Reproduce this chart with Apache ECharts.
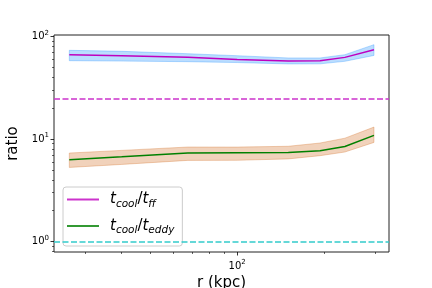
<!DOCTYPE html>
<html>
<head>
<meta charset="utf-8">
<script src="https://cdn.jsdelivr.net/npm/echarts@6/dist/echarts.min.js"></script>
<style>
html,body{margin:0;padding:0;background:#fff;}
#c{width:432px;height:288px;}
</style>
</head>
<body>
<div id="c"></div>
<script>
// ---- data ----
const radius   = [26.4, 40, 67.6, 100, 150, 193, 235, 296];
const ffMid    = [66.5, 65.3, 63.1, 60.0, 58.0, 58.3, 62.8, 74.6];
const ffLow    = [58.3, 57.8, 57.0, 55.9, 54.2, 54.3, 57.5, 65.6];
const ffHigh   = [73.6, 72.0, 68.2, 65.2, 62.0, 62.0, 66.7, 83.6];
const eddyMid  = [6.29, 6.71, 7.31, 7.35, 7.40, 7.69, 8.47, 10.86];
const eddyLow  = [5.28, 5.65, 6.19, 6.20, 6.40, 6.88, 7.47, 9.27];
const eddyHigh = [7.30, 7.75, 8.36, 8.35, 8.50, 9.15, 10.2, 13.1];
const ffThreshold = 25;
const eddyThreshold = 1;
const xMajorTicks = [100];
const xMinorTicks = [30, 40, 50, 60, 70, 80, 90, 200, 300];
const yMajorTicks = [1, 10, 100];
const yMinorTicks = [0.8, 0.9, 2, 3, 4, 5, 6, 7, 8, 9, 20, 30, 40, 50, 60, 70, 80, 90];
const xRange = [23.38, 333.5];
const yRange = [0.788, 103.9];

const FONT = 'DejaVu Sans';
const powLabel = v => '{b|10}{s|' + Math.round(Math.log10(v)) + '}';
const powRich = {
  b: {fontSize: 10, fontFamily: FONT, color: '#000', lineHeight: 14},
  s: {fontSize: 7, fontFamily: FONT, color: '#000', lineHeight: 9, verticalAlign: 'top'}
};

function bandSeries(lo, hi, fill) {
  return {
    type: 'custom',
    xAxisIndex: 0, yAxisIndex: 0,
    silent: true, clip: true, z: 1,
    data: [[radius[0], lo[0]]],
    renderItem: function (params, api) {
      const top = radius.map((r, i) => api.coord([r, hi[i]]));
      const bot = radius.map((r, i) => api.coord([r, lo[i]])).reverse();
      return {
        type: 'polygon',
        shape: {points: top.concat(bot)},
        style: {fill: fill, stroke: fill, lineWidth: 1}
      };
    }
  };
}

const chart = echarts.init(document.getElementById('c'), null, {renderer: 'canvas'});
chart.setOption({
  animation: false,
  backgroundColor: '#fff',
  grid: {left: 54, right: 43, top: 35, bottom: 36, show: true, borderColor: '#222', borderWidth: 1,
         backgroundColor: 'transparent', containLabel: false, outerBoundsMode: 'none'},
  xAxis: [
    {
      type: 'log', logBase: 10, min: xRange[0], max: xRange[1], position: 'bottom',
      name: 'r (kpc)', nameLocation: 'middle', nameGap: 24,
      nameTextStyle: {fontSize: 15, fontFamily: FONT, color: '#000'},
      axisLine: {show: false},
      axisTick: {show: true, customValues: xMajorTicks, length: 3.5, lineStyle: {color: '#000', width: 0.8}},
      axisLabel: {customValues: xMajorTicks, formatter: powLabel, rich: powRich, margin: 7},
      splitLine: {show: false}, minorTick: {show: false}
    },
    {
      type: 'log', logBase: 10, min: xRange[0], max: xRange[1], position: 'bottom',
      axisLine: {show: false},
      axisTick: {show: true, customValues: xMinorTicks, length: 2, lineStyle: {color: '#000', width: 0.6}},
      axisLabel: {show: false},
      splitLine: {show: false}, minorTick: {show: false}
    }
  ],
  yAxis: [
    {
      type: 'log', logBase: 10, min: yRange[0], max: yRange[1], position: 'left',
      name: 'ratio', nameLocation: 'middle', nameGap: 27, nameRotate: 90,
      nameTextStyle: {fontSize: 15, fontFamily: FONT, color: '#000'},
      axisLine: {show: false},
      axisTick: {show: true, customValues: yMajorTicks, length: 3.5, lineStyle: {color: '#000', width: 0.8}},
      axisLabel: {customValues: yMajorTicks, formatter: powLabel, rich: powRich, margin: 5},
      splitLine: {show: false}, minorTick: {show: false}
    },
    {
      type: 'log', logBase: 10, min: yRange[0], max: yRange[1], position: 'left',
      axisLine: {show: false},
      axisTick: {show: true, customValues: yMinorTicks, length: 2, lineStyle: {color: '#000', width: 0.6}},
      axisLabel: {show: false},
      splitLine: {show: false}, minorTick: {show: false}
    }
  ],
  legend: {
    orient: 'vertical', left: 63, top: 187,
    padding: [5, 8, 10, 4], itemGap: 9,
    itemWidth: 32, itemHeight: 2, icon: 'rect',
    backgroundColor: 'rgba(255,255,255,0.8)', borderColor: '#cccccc', borderWidth: 1, borderRadius: 3,
    data: [
      {name: 'ff', itemStyle: {color: '#cc33cc'}},
      {name: 'eddy', itemStyle: {color: '#339933'}}
    ],
    formatter: function (name) {
      return '{f|t}{s|cool}{r|/}{t|t}{s|' + name + '}';
    },
    textStyle: {
      rich: {
        f: {fontSize: 15, fontStyle: 'italic', fontFamily: FONT, color: '#000', lineHeight: 20, padding: [0, 0, 0, 6]},
        t: {fontSize: 15, fontStyle: 'italic', fontFamily: FONT, color: '#000', lineHeight: 20},
        r: {fontSize: 15, fontFamily: FONT, color: '#000', lineHeight: 20},
        s: {fontSize: 10.5, fontStyle: 'italic', fontFamily: FONT, color: '#000', lineHeight: 12, verticalAlign: 'bottom'}
      }
    }
  },
  series: [
    bandSeries(ffLow, ffHigh, 'rgba(30,144,255,0.3)'),
    bandSeries(eddyLow, eddyHigh, 'rgba(210,105,30,0.3)'),
    {
      name: 'ff', type: 'line', xAxisIndex: 0, yAxisIndex: 0, z: 3,
      data: radius.map((r, i) => [r, ffMid[i]]),
      showSymbol: false, symbol: 'none', color: '#bf00bf',
      lineStyle: {color: '#bf00bf', width: 1.5},
      markLine: {
        silent: true, symbol: ['none', 'none'], label: {show: false},
        lineStyle: {color: '#cc33cc', width: 1.5, type: [6, 2.5]},
        data: [{yAxis: ffThreshold}]
      }
    },
    {
      name: 'eddy', type: 'line', xAxisIndex: 0, yAxisIndex: 0, z: 3,
      data: radius.map((r, i) => [r, eddyMid[i]]),
      showSymbol: false, symbol: 'none', color: '#008000',
      lineStyle: {color: '#008000', width: 1.5},
      markLine: {
        silent: true, symbol: ['none', 'none'], label: {show: false},
        lineStyle: {color: '#33cccc', width: 1.5, type: [6, 2.5]},
        data: [{yAxis: eddyThreshold}]
      }
    }
  ]
});
</script>
</body>
</html>
